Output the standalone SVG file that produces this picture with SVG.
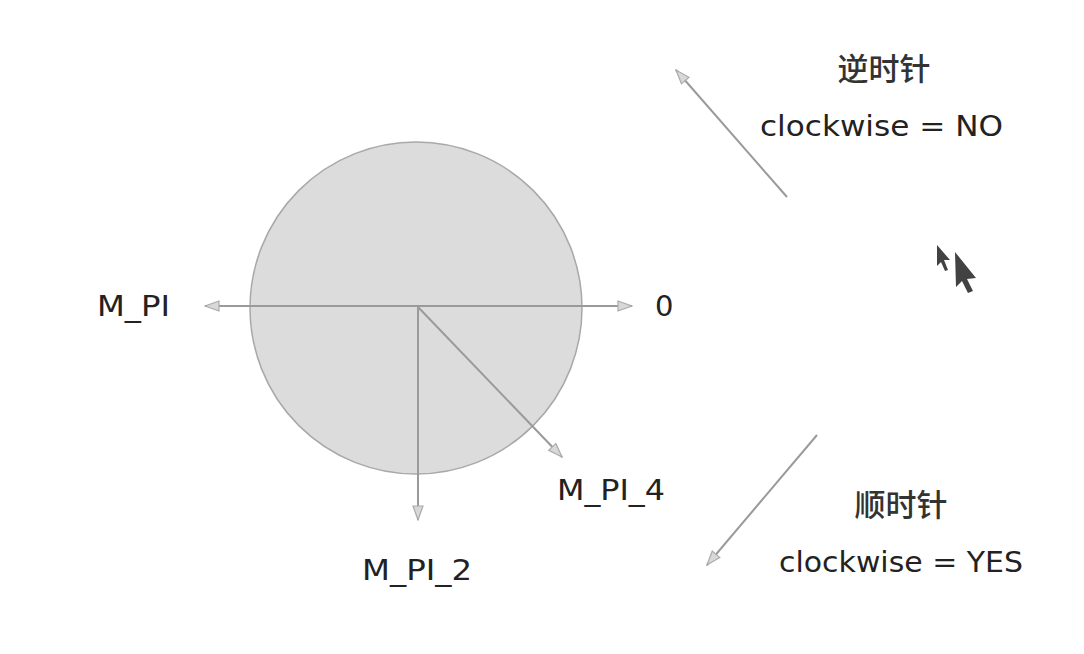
<svg xmlns="http://www.w3.org/2000/svg" width="1084" height="654" viewBox="0 0 1084 654">
<style>
.t{font-family:"DejaVu Sans","Noto Sans CJK SC",sans-serif;fill:#222;font-size:29px}
.c{font-family:"Noto Sans CJK SC",sans-serif;fill:#333;font-size:31px;font-weight:500}
.ln{stroke:#9a9a9a;stroke-width:2;fill:none;marker-end:url(#ah)}
</style>
<defs>
<marker id="ah" viewBox="0 0 16 12" refX="15" refY="6" markerWidth="16" markerHeight="12" markerUnits="userSpaceOnUse" orient="auto">
<path d="M1,1 L15,6 L1,11 Z" fill="#d8d8d8" stroke="#aaa" stroke-width="1.2"/>
</marker>
</defs>
<rect width="1084" height="654" fill="#fff"/>
<g id="circle">
<circle cx="416" cy="308" r="166" fill="#dcdcdd" stroke="#a8a8a8" stroke-width="1.5"/>
</g>
<g id="connectors">
<line class="ln" x1="418" y1="306" x2="632" y2="306"/>
<line class="ln" x1="418" y1="306" x2="205" y2="306"/>
<line class="ln" x1="418" y1="307" x2="418" y2="520"/>
<line class="ln" x1="418" y1="307" x2="562" y2="457"/>
<line class="ln" x1="787" y1="197" x2="676" y2="70"/>
<line class="ln" x1="817" y1="435" x2="707" y2="565"/>
</g>
<g id="label-mpi"><text class="t" x="97" y="316" textLength="73" lengthAdjust="spacingAndGlyphs">M_PI</text></g>
<g id="label-0"><text class="t" x="655" y="316">0</text></g>
<g id="label-mpi4"><text class="t" x="557" y="500" textLength="108" lengthAdjust="spacingAndGlyphs">M_PI_4</text></g>
<g id="label-mpi2"><text class="t" x="362" y="580" textLength="110" lengthAdjust="spacingAndGlyphs">M_PI_2</text></g>
<g id="ccw">
<text class="c" x="884" y="80" text-anchor="middle">逆时针</text>
<text class="t" x="760" y="136" textLength="243" lengthAdjust="spacingAndGlyphs">clockwise = NO</text>
</g>
<g id="cw">
<text class="c" x="901" y="516" text-anchor="middle">顺时针</text>
<text class="t" x="779" y="572" textLength="244" lengthAdjust="spacingAndGlyphs">clockwise = YES</text>
</g>
<g id="cursor" fill="#222" opacity="0.85">
<path d="M937,245 L950,260 L944,260 L948,270 L945,271 L941,262 L937,266 Z"/>
<path d="M955,252 L976,278 L967,279 L973,291 L968,293 L962,281 L956,287 Z"/>
</g>
</svg>
